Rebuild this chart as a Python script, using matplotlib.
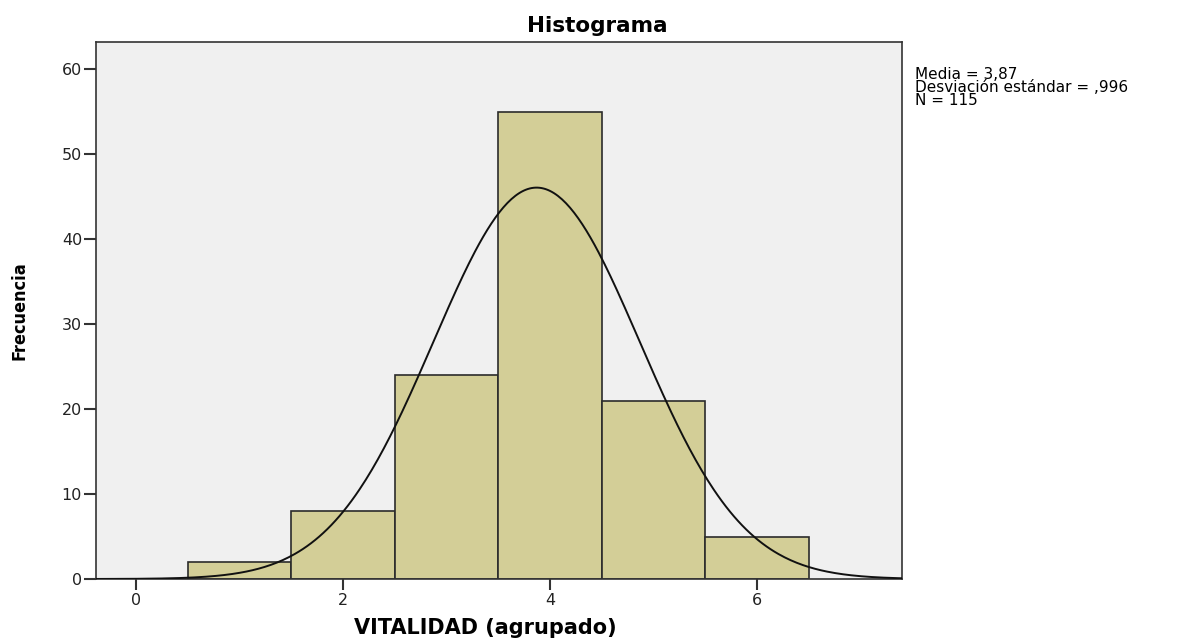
import numpy as np
import matplotlib.pyplot as plt

# valores agrupados de VITALIDAD y sus frecuencias
categorias = [1, 2, 3, 4, 5, 6]
frecuencias = [2, 8, 24, 55, 21, 5]
media = 3.87
desv = 0.996
n = 115

fig = plt.figure(figsize=(11.77, 6.39), dpi=100)
ax = fig.add_axes([96/1177, 1 - 579/639, (902-96)/1177, (579-42)/639])
ax.set_facecolor('#f0f0f0')

ax.bar(categorias, frecuencias, width=1.0, color='#d3ce97',
       edgecolor='#2b2b2b', linewidth=1.2, zorder=2)

# curva normal ajustada (media y desviacion del recuadro)
xs = np.linspace(-0.4, 7.4, 400)
ys = n * 1.0 / (desv * np.sqrt(2 * np.pi)) * np.exp(-0.5 * ((xs - media) / desv) ** 2)
ax.plot(xs, ys, color='#111111', linewidth=1.4, zorder=3)

ax.set_xlim(-0.386, 7.40)
ax.set_ylim(0, 63.2)
ax.set_xticks([0, 2, 4, 6])
ax.set_yticks([0, 10, 20, 30, 40, 50, 60])

for s in ax.spines.values():
    s.set_color('#333333')
    s.set_linewidth(1.2)
ax.tick_params(axis='y', direction='out', length=9, width=1.5, colors='#333333',
               labelsize=11.5, labelcolor='#222222', pad=1)
ax.tick_params(axis='x', direction='out', length=8, width=1.5, colors='#333333',
               labelsize=11.5, labelcolor='#222222', pad=2)

fig.text(597/1177, 1 - 26/639, 'Histograma', fontsize=15.5, fontweight='bold',
         ha='center', va='center')
ax.set_xlabel('VITALIDAD (agrupado)', fontsize=15, fontweight='bold')
ax.xaxis.set_label_coords((485 - 96) / (902 - 96), -(628 - 579) / (579 - 42))
ax.xaxis.label.set_va('center')
ax.set_ylabel('Frecuencia', fontsize=13, fontweight='bold', fontstretch='condensed')
ax.yaxis.set_label_coords(-(96 - 20) / (902 - 96), 0.5)
ax.yaxis.label.set_va('center')

fig.text(915/1177, 1 - 67/639,
         'Media = 3,87\nDesviación estándar = ,996\nN = 115',
         fontsize=11, va='top', ha='left', linespacing=0.85)

fig.savefig('out.png', dpi=100)
